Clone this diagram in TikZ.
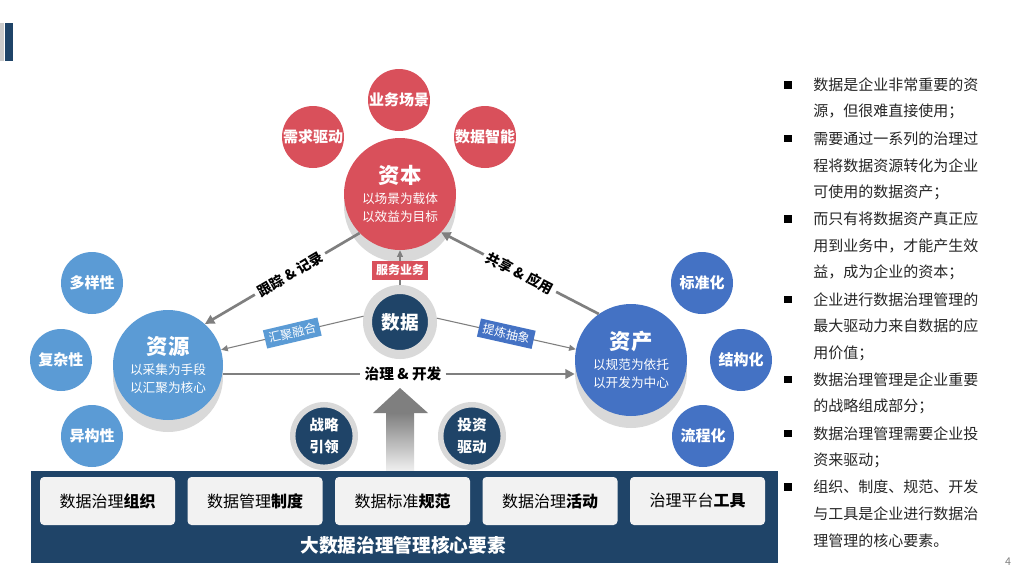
\documentclass[tikz,border=0pt]{standalone}
\usepackage{fontspec}
\setmainfont{Noto Sans CJK SC}
\usetikzlibrary{arrows.meta,positioning,shadows}

\definecolor{capred}{HTML}{D9505B}
\definecolor{srcblue}{HTML}{5B9BD5}
\definecolor{astblue}{HTML}{4472C4}
\definecolor{navy}{HTML}{1F4468}
\definecolor{ringgray}{HTML}{D9D9D9}
\definecolor{linegray}{HTML}{7F7F7F}
\definecolor{boxgray}{HTML}{F2F2F2}

\tikzset{
  minicircle/.style={circle, minimum size=46.5pt, inner sep=0pt, text=white,
    font=\fontsize{11.25}{13}\selectfont\bfseries},
  maincircle/.style={circle, minimum size=84pt, inner sep=0pt, text=white, align=center,
    font=\fontsize{9.5}{13.5}\selectfont,
    drop shadow={shadow xshift=0pt, shadow yshift=-9pt, opacity=1, fill=ringgray}},
  ringcircle/.style={circle, fill=navy, draw=ringgray, inner sep=0pt, text=white, align=center},
  thickline/.style={draw=linegray, line width=2pt, -{Triangle[length=7pt,width=7pt]}},
  thinline/.style={draw=linegray, line width=0.8pt, -{Triangle[length=5pt,width=4.5pt]}},
  slopelabel/.style={sloped, fill=white, inner sep=3pt, text=black,
    font=\fontsize{10.5}{12}\selectfont\bfseries},
  tagbox/.style={inner xsep=3pt, inner ysep=2.8pt, text=white, font=\fontsize{9}{11}\selectfont},
  corebox/.style={fill=boxgray, rounded corners=3pt, minimum width=101.25pt,
    minimum height=36pt, inner sep=0pt, font=\fontsize{12}{14}\selectfont},
  noteline/.style={anchor=west, inner sep=0pt, text=black!85, font=\fontsize{11.25}{13}\selectfont},
  bulletsq/.style={fill=black, minimum size=5.5pt, inner sep=0pt}
}

\begin{document}
\begin{tikzpicture}[x=0.75pt,y=-0.75pt]
    \useasboundingbox[fill=white] (0,0) rectangle (1024,576);

    % title marks
    \fill[gray!40] (0,23) rectangle (4,61);
    \fill[navy] (5,23) rectangle (13,61);

    % capital
    \node[minicircle, fill=capred] (scene) at (399,100) {业务场景};
    \node[minicircle, fill=capred] (demand) at (313,137) {需求驱动};
    \node[minicircle, fill=capred] (smart) at (485,137) {数据智能};
    \node[maincircle, fill=capred] (ziben) at (400,194)
        {{\fontsize{16}{20}\selectfont\bfseries 资本}\\[2pt]以场景为载体\\以效益为目标};

    % resource
    \node[minicircle, fill=srcblue] (diverse) at (92,283) {多样性};
    \node[minicircle, fill=srcblue] (complex) at (61,360) {复杂性};
    \node[minicircle, fill=srcblue] (hetero) at (92,436) {异构性};
    \node[maincircle, fill=srcblue, minimum size=82.5pt] (ziyuan) at (168,365)
        {{\fontsize{16}{20}\selectfont\bfseries 资源}\\[2pt]以采集为手段\\以汇聚为核心};

    % asset
    \node[minicircle, fill=astblue] (standard) at (702,283) {标准化};
    \node[minicircle, fill=astblue] (struct) at (741,360) {结构化};
    \node[minicircle, fill=astblue] (process) at (703,436) {流程化};
    \node[maincircle, fill=astblue] (zichan) at (631,360)
        {{\fontsize{16}{20}\selectfont\bfseries 资产}\\[2pt]以规范为依托\\以开发为中心};

    % data and drivers
    \node[ringcircle, minimum size=48.75pt, line width=6.75pt,
        font=\fontsize{14}{16}\selectfont\bfseries] (shuju) at (400,322) {数据};
    \node[ringcircle, minimum size=46.9pt, line width=4.1pt,
        font=\fontsize{11}{16.5}\selectfont\bfseries] (strategy) at (324,436) {战略\\引领};
    \node[ringcircle, minimum size=46.9pt, line width=4.1pt,
        font=\fontsize{11}{16.5}\selectfont\bfseries] (invest) at (472,436) {投资\\驱动};

    % connectors
    \draw[thickline] (ziben.224) -- node[slopelabel, pos=0.45] {跟踪 \& 记录} (ziyuan.48);
    \draw[thickline] (zichan.125) -- node[slopelabel] {共享 \& 应用} (ziben.-43);
    \draw[thinline] (shuju.90) -- node[tagbox, fill=capred, pos=0.43, font=\fontsize{9}{11}\selectfont\bfseries] {服务业务} (ziben.-90);
    \draw[thinline] (shuju.171) -- node[tagbox, sloped, fill=srcblue] {汇聚融合} (ziyuan.16);
    \draw[thinline] (shuju.6) -- node[tagbox, sloped, fill=astblue] {提炼抽象} (zichan.169);

    \node[fill=white, inner sep=3pt, font=\fontsize{11}{13}\selectfont\bfseries] (zhili) at (403,374) {治理 \& 开发};
    \draw[draw=linegray, line width=2pt] (ziyuan.east |- zhili) -- (zhili.west);
    \draw[thickline] (zhili.east) -- (zichan.west |- zhili);

    % rising arrow
    \shade[top color=linegray, bottom color=gray!10] (386,413) rectangle (414,472);
    \fill[linegray] (373,413) -- (400,388) -- (428,413) -- cycle;

    % core elements
    \fill[navy] (31,471) rectangle (778,563);
    \foreach \x/\a/\b [count=\i] in {107.5/数据治理/组织, 255/数据管理/制度,
        402.5/数据标准/规范, 550/数据治理/活动, 697.5/治理平台/工具}
        \node[corebox] (core\i) at (\x,501) {\a\textbf{\b}};
    \node[text=white, font=\fontsize{14}{16}\selectfont\bfseries] (coretitle) at (403,545) {大数据治理管理核心要素};

    % notes
    \foreach \txt [count=\i from 0] in {数据是企业非常重要的资, 源，但很难直接使用；,
        需要通过一系列的治理过, 程将数据资源转化为企业, 可使用的数据资产；,
        而只有将数据资产真正应, 用到业务中，才能产生效, 益，成为企业的资本；,
        企业进行数据治理管理的, 最大驱动力来自数据的应, 用价值；,
        数据治理管理是企业重要, 的战略组成部分；,
        数据治理管理需要企业投, 资来驱动；,
        组织、制度、规范、开发, 与工具是企业进行数据治, 理管理的核心要素。}
        \node[noteline] (note\i) at (813,{85+26.8*\i}) {\txt};
    \foreach \i in {0,2,5,8,11,13,15}
        \node[bulletsq] (bul\i) at ([xshift=-18.75pt]note\i.west) {};

    \node[text=gray, font=\fontsize{8}{9}\selectfont] (pagenum) at (1008,562) {4};
\end{tikzpicture}
\end{document}
